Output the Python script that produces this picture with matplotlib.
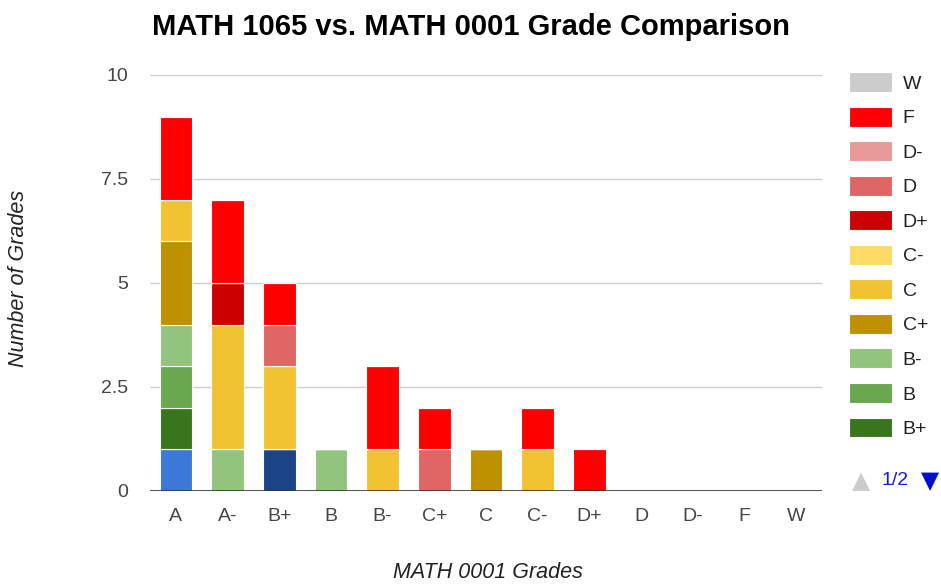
import matplotlib.pyplot as plt
import numpy as np

plt.rcParams['font.family'] = ['Liberation Sans', 'DejaVu Sans']

title = "MATH 1065 vs. MATH 0001 Grade Comparison"

# x axis: MATH 0001 grade
categories = ['A', 'A-', 'B+', 'B', 'B-', 'C+', 'C', 'C-', 'D+', 'D', 'D-', 'F', 'W']

# series: MATH 1065 grade, counts per MATH 0001 grade (stacked bottom -> top)
series = ['A', 'A-', 'B+', 'B', 'B-', 'C+', 'C', 'C-', 'D+', 'D', 'D-', 'F', 'W']
counts = {
    'A':  [1, 0, 0, 0, 0, 0, 0, 0, 0, 0, 0, 0, 0],
    'A-': [0, 0, 1, 0, 0, 0, 0, 0, 0, 0, 0, 0, 0],
    'B+': [1, 0, 0, 0, 0, 0, 0, 0, 0, 0, 0, 0, 0],
    'B':  [1, 0, 0, 0, 0, 0, 0, 0, 0, 0, 0, 0, 0],
    'B-': [1, 1, 0, 1, 0, 0, 0, 0, 0, 0, 0, 0, 0],
    'C+': [2, 0, 0, 0, 0, 0, 1, 0, 0, 0, 0, 0, 0],
    'C':  [1, 3, 2, 0, 1, 0, 0, 1, 0, 0, 0, 0, 0],
    'C-': [0, 0, 0, 0, 0, 0, 0, 0, 0, 0, 0, 0, 0],
    'D+': [0, 1, 0, 0, 0, 0, 0, 0, 0, 0, 0, 0, 0],
    'D':  [0, 0, 1, 0, 0, 1, 0, 0, 0, 0, 0, 0, 0],
    'D-': [0, 0, 0, 0, 0, 0, 0, 0, 0, 0, 0, 0, 0],
    'F':  [2, 2, 1, 0, 2, 1, 0, 1, 1, 0, 0, 0, 0],
    'W':  [0, 0, 0, 0, 0, 0, 0, 0, 0, 0, 0, 0, 0],
}
colors = {
    'A': '#3c78d8', 'A-': '#1c4587', 'B+': '#38761d', 'B': '#6aa84f',
    'B-': '#93c47d', 'C+': '#bf9000', 'C': '#f1c232', 'C-': '#ffd966',
    'D+': '#cc0000', 'D': '#e06666', 'D-': '#ea9999', 'F': '#ff0000',
    'W': '#cccccc',
}

fig = plt.figure(figsize=(9.41, 5.85), dpi=100)
ax = fig.add_axes([0.1594, 0.1607, 0.7141, 0.7111])

x = np.arange(len(categories))
bottom = np.zeros(len(categories))
handles = {}
for s in series:
    vals = np.array(counts[s], dtype=float)
    b = ax.bar(x, vals, 0.63, bottom=bottom, color=colors[s],
               edgecolor='white', linewidth=0.8, zorder=3)
    handles[s] = b
    bottom += vals

ax.set_xlim(-0.5, len(categories) - 0.5)
ax.set_ylim(0, 10)
ax.set_yticks([0, 2.5, 5, 7.5, 10])
ax.set_yticklabels(['0', '2.5', '5', '7.5', '10'])
ax.set_xticks(x)
ax.set_xticklabels(categories)
ax.grid(axis='y', color='#cccccc', linewidth=1, zorder=0)
ax.axhline(0, color='#333333', linewidth=1.2, zorder=4)
for sp in ax.spines.values():
    sp.set_visible(False)
ax.tick_params(length=0, labelsize=14, colors='#444444')
ax.tick_params(axis='y', pad=16)
ax.tick_params(axis='x', pad=12)

ax.set_xlabel('MATH 0001 Grades', fontsize=15.5, style='italic', color='#222222')
ax.xaxis.set_label_coords(0.503, -0.195)
ax.xaxis.label.set_va('center')
ax.set_ylabel('Number of Grades', fontsize=15.5, style='italic', color='#222222')
ax.yaxis.set_label_coords(-0.196, 0.51)
ax.yaxis.label.set_va('center')
fig.text(0.5, 0.953, title, ha='center', va='center', fontsize=21, fontweight='bold')

# legend page 1: W down to B+
shown = ['W', 'F', 'D-', 'D', 'D+', 'C-', 'C', 'C+', 'B-', 'B', 'B+']
leg = ax.legend([handles[s] for s in shown], shown, loc='upper left',
                bbox_to_anchor=(1.0, 1.072), frameon=False, fontsize=14,
                handlelength=2.2, handleheight=1.2, labelspacing=0.72,
                handletextpad=0.55, borderaxespad=1.0)
for t in leg.get_texts():
    t.set_color('#222222')

fig.text(0.915, 0.178, '▲', color='#cccccc', fontsize=17, ha='center', va='center',
         family='DejaVu Sans')
fig.text(0.951, 0.178, '1/2', color='#1a1adb', fontsize=14, ha='center', va='center')
fig.text(0.988, 0.178, '▼', color='#0011cc', fontsize=17, ha='center', va='center',
         family='DejaVu Sans')

fig.savefig('out.png', dpi=100)
